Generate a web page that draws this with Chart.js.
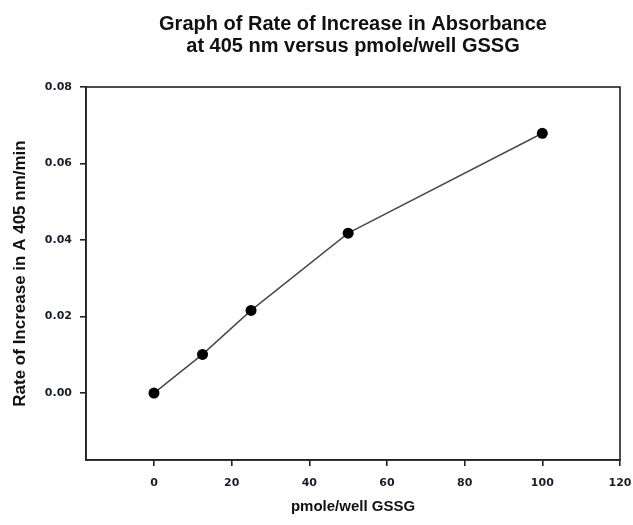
<!DOCTYPE html>
<html>
<head>
<meta charset="utf-8">
<script src="https://cdn.jsdelivr.net/npm/chart.js@4.4.1/dist/chart.umd.min.js"></script>
<style>
  html, body { margin: 0; padding: 0; background: #ffffff; }
  #wrap { width: 633px; height: 525px; }
</style>
</head>
<body>
<div id="wrap"><canvas id="c" width="633" height="525"></canvas></div>
<script>
const titleLines = ["Graph of Rate of Increase in Absorbance", "at 405 nm versus pmole/well GSSG"];
const xLabel = "pmole/well GSSG";
const yLabel = "Rate of Increase in A 405 nm/min";
const gssg = [0, 12.5, 25, 50, 100];
const rate = [0, 0.0101, 0.0216, 0.0418, 0.0679];
const xTicks = [0, 20, 40, 60, 80, 100, 120];
const yTicks = [0.00, 0.02, 0.04, 0.06, 0.08];
const xRange = [-17.5, 120];
const yRange = [-0.0175, 0.08];

const points = gssg.map((x, i) => ({ x: x, y: rate[i] }));
const FONT = "'Liberation Sans', Arial, Helvetica, sans-serif";
const TICKFONT = "'DejaVu Sans', Verdana, sans-serif";
const AXIS = '#222222';

const frame = {
  id: 'frame',
  afterDatasetsDraw(chart) {
    const a = chart.chartArea, ctx = chart.ctx;
    ctx.save();
    ctx.strokeStyle = AXIS;
    ctx.lineWidth = 1.6;
    ctx.strokeRect(a.left, a.top, a.right - a.left, a.bottom - a.top);
    ctx.restore();
  }
};

new Chart(document.getElementById('c'), {
  type: 'scatter',
  data: {
    datasets: [{
      data: points,
      showLine: true,
      borderColor: '#4a4a4a',
      borderWidth: 1.5,
      pointBackgroundColor: '#000000',
      pointBorderColor: '#000000',
      pointRadius: 5.5,
      pointBorderWidth: 0
    }]
  },
  options: {
    responsive: false,
    animation: false,
    layout: { padding: { left: 0, right: 13, top: 0, bottom: 0 } },
    plugins: {
      legend: { display: false },
      tooltip: { enabled: false },
      title: {
        display: true,
        text: titleLines,
        fullSize: false,
        color: '#111111',
        font: { family: FONT, size: 20, weight: 'bold', lineHeight: 1.1 },
        padding: { top: 13, bottom: 30 }
      }
    },
    scales: {
      x: {
        type: 'linear',
        min: xRange[0], max: xRange[1],
        afterBuildTicks(s) { s.ticks = xTicks.map(v => ({ value: v })); },
        afterFit(s) { s.height = 65; s.paddingLeft = 0; s.paddingRight = 0; },
        grid: { display: true, drawOnChartArea: false, drawTicks: true, tickLength: 6, color: AXIS, lineWidth: 1.6 },
        border: { display: true, color: AXIS, width: 1.6 },
        ticks: { color: '#1a1a2e', padding: 11, font: { family: TICKFONT, size: 11, weight: 'bold' }, maxRotation: 0 },
        title: { display: true, text: xLabel, color: '#111111', font: { family: FONT, size: 15, weight: 'bold' }, padding: { top: 0, bottom: 9 } }
      },
      y: {
        type: 'linear',
        min: yRange[0], max: yRange[1],
        afterBuildTicks(s) { s.ticks = yTicks.map(v => ({ value: v })); },
        afterFit(s) { s.width = 86; s.paddingTop = 0; s.paddingBottom = 0; },
        grid: { display: true, drawOnChartArea: false, drawTicks: true, tickLength: 6, color: AXIS, lineWidth: 1.6 },
        border: { display: true, color: AXIS, width: 1.6 },
        ticks: { color: '#1a1a2e', padding: 8, font: { family: TICKFONT, size: 11, weight: 'bold' }, callback: v => v.toFixed(2) },
        title: { display: true, text: yLabel, color: '#111111', font: { family: FONT, size: 17, weight: 'bold' }, padding: { top: 10, bottom: 0 } }
      }
    }
  },
  plugins: [frame]
});
</script>
</body>
</html>
